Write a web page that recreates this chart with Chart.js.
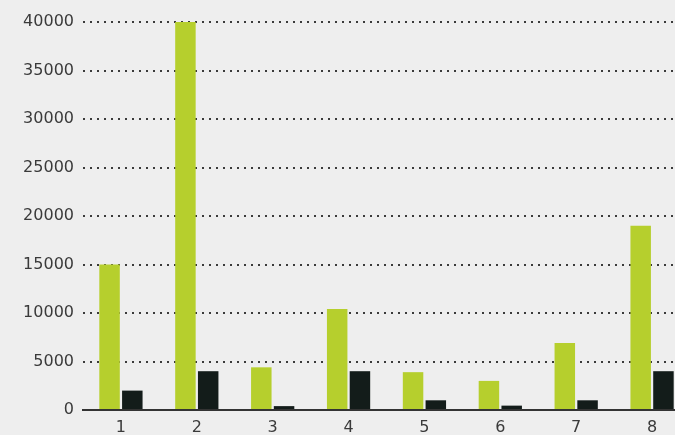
<!DOCTYPE html>
<html>
<head>
<meta charset="utf-8">
<script src="https://cdn.jsdelivr.net/npm/chart.js@4"></script>
<style>
  html, body { margin: 0; padding: 0; background: #eeeeee; overflow: hidden; }
  #wrap { position: absolute; left: 0; top: 0; width: 690px; height: 435px; }
</style>
</head>
<body>
<div id="wrap"><canvas id="myChart"></canvas></div>
<script>
const labels = ['1', '2', '3', '4', '5', '6', '7', '8'];
const greenValues = [15000, 40000, 4400, 10400, 3900, 3000, 6900, 19000];
const darkValues = [2000, 4000, 400, 4000, 1000, 450, 1000, 4000];
const yTicks = [0, 5000, 10000, 15000, 20000, 25000, 30000, 35000, 40000];

const ctx = document.getElementById('myChart');

new Chart(ctx, {
  type: 'bar',
  data: {
    labels: labels,
    datasets: [{
      data: greenValues,
      backgroundColor: '#b6cf2d',
      categoryPercentage: 0.6,
      barPercentage: 0.9
    }, {
      data: darkValues,
      backgroundColor: '#131c1a',
      categoryPercentage: 0.6,
      barPercentage: 0.9
    }]
  },
  options: {
    responsive: true,
    maintainAspectRatio: false,
    animation: false,
    layout: { padding: { top: 22, right: 0, bottom: 0, left: 0 } },
    plugins: {
      legend: { display: false },
      tooltip: { enabled: false }
    },
    scales: {
      x: {
        afterFit: (scale) => { scale.height = 25; },
        grid: { display: false, drawTicks: false },
        border: { display: true, color: '#333333', width: 2 },
        ticks: {
          color: '#3a3a3a',
          padding: 8,
          font: { family: 'DejaVu Sans', size: 16 }
        }
      },
      y: {
        min: 0,
        max: 40000,
        afterFit: (scale) => { scale.width = 83; },
        afterBuildTicks: (scale) => { scale.ticks = yTicks.map(v => ({ value: v })); },
        border: { display: false, dash: [2, 5] },
        grid: {
          drawTicks: false,
          lineWidth: 2,
          color: (c) => c.tick && c.tick.value === 0 ? 'rgba(0,0,0,0)' : '#3a3a3a'
        },
        ticks: {
          color: '#3a3a3a',
          padding: 9,
          font: { family: 'DejaVu Sans', size: 16 },
          callback: (v) => String(v)
        }
      }
    }
  }
});
</script>
</body>
</html>
